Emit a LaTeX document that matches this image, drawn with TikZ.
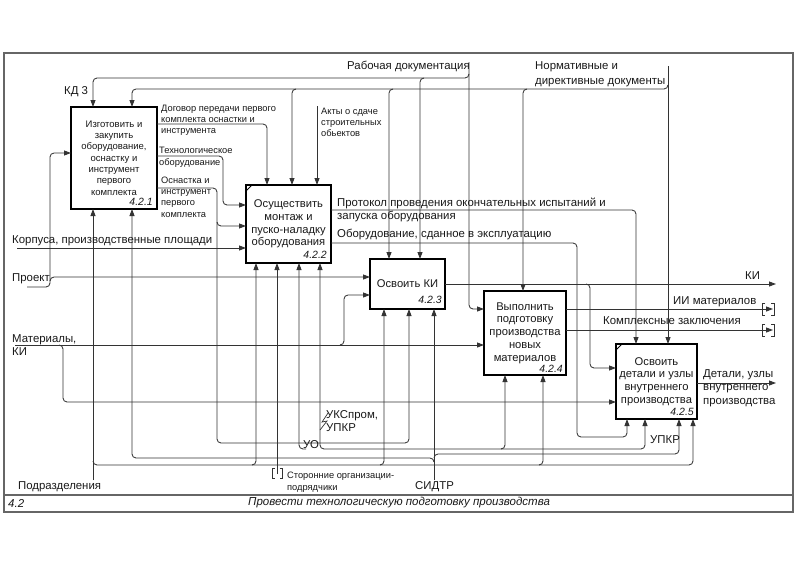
\documentclass[tikz,border=0pt]{standalone}
\usepackage{fontspec}
\setmainfont{Liberation Sans}
\usetikzlibrary{arrows.meta}
\begin{document}
\begin{tikzpicture}[x=1pt,y=-1pt,
  box/.style={draw=black, line width=1.7pt, inner sep=0pt, outer sep=0pt, align=center, text=black!90, font=\fontsize{11.2}{12.8}\selectfont},
  conn/.style={draw=black!80, line width=0.85pt, rounded corners=4pt},
  arr/.style={-{Triangle[length=7pt,width=5pt]}},
  lab/.style={inner sep=0pt, anchor=west, align=left, text=black!90, font=\fontsize{11.4}{13}\selectfont},
  slab/.style={inner sep=0pt, anchor=west, align=left, text=black!90, font=\fontsize{9.3}{11}\selectfont},
  num/.style={inner sep=0pt, anchor=south east, text=black!90, font=\fontsize{10.5}{12}\selectfont\itshape},
  tun/.style={draw=black!80, line width=0.8pt},
]
\fill[white] (0,0) rectangle (800,565);
\useasboundingbox (0,0) rectangle (800,565);
% frame
\draw[black!60, line width=1.2pt] (4,53) rectangle (793,512);
\draw[black!60, line width=1.2pt] (4,495) -- (793,495);
\node[lab, font=\fontsize{11.5}{13}\selectfont\itshape] (tnum) at (8,503) {4.2};
\node[lab, font=\fontsize{11.5}{13}\selectfont\itshape] (ttl) at (248,503) {Провести технологическую подготовку производства};

% boxes
\node[box, minimum width=86pt, minimum height=102pt, font=\fontsize{9.5}{11.3}\selectfont] (b1) at (114,158) {Изготовить и\\закупить\\оборудование,\\оснастку и\\инструмент\\первого\\комплекта};
\node[num] (n1) at ([xshift=-4pt,yshift=3pt]b1.south east) {4.2.1};
\node[box, minimum width=85pt, minimum height=78pt] (b2) at (288.5,224) {Осуществить\\монтаж и\\пуско-наладку\\оборудования};
\node[num] (n2) at ([xshift=-4pt,yshift=4pt]b2.south east) {4.2.2};
\node[box, minimum width=75pt, minimum height=50pt] (b3) at (407.5,284) {Освоить КИ};
\node[num] (n3) at ([xshift=-3pt,yshift=5pt]b3.south east) {4.2.3};
\node[box, minimum width=82pt, minimum height=84pt] (b4) at (525,333) {Выполнить\\подготовку\\производства\\новых\\материалов};
\node[num] (n4) at ([xshift=-3pt,yshift=2pt]b4.south east) {4.2.4};
\node[box, minimum width=81pt, minimum height=75pt] (b5) at (656.5,381.5) {Освоить\\детали и узлы\\внутреннего\\производства};
\node[num] (n5) at ([xshift=-3pt,yshift=3pt]b5.south east) {4.2.5};
\draw[line width=1pt] ([yshift=-6pt]b2.north west) -- ([xshift=6pt]b2.north west);
\draw[line width=1pt] ([yshift=-6pt]b5.north west) -- ([xshift=6pt]b5.north west);

% Рабочая документация
\draw[conn,arr] (469,62) -- (469,309) -- (b4.west |- 0,309);
\draw[conn,arr] (469,74) -- (469,78) -- (93,78) -- (93,0 |- b1.north);
\draw[conn,arr] (424,78) -- (420,78) -- (420,0 |- b3.north);
% Нормативные
\draw[conn,arr] (668,66) -- (668,0 |- b5.north);
\draw[conn,arr] (668,85) -- (668,89) -- (132,89) -- (132,0 |- b1.north);
\draw[conn,arr] (296,89) -- (292,89) -- (292,0 |- b2.north);
\draw[conn,arr] (393,89) -- (389,89) -- (389,0 |- b3.north);
\draw[conn,arr] (527,89) -- (523,89) -- (523,0 |- b4.north);
% Акты
\draw[conn,arr] (317,106) -- (317,0 |- b2.north);
% Договор
\draw[conn,arr] (b1.east |- 0,124) -- (267,124) -- (267,0 |- b2.north);
% Технологическое
\draw[conn,arr] (b1.east |- 0,156) -- (223,156) -- (223,205) -- (b2.west |- 0,205);
% Оснастка
\draw[conn,arr] (b1.east |- 0,188) -- (217,188) -- (217,443) -- (409,443) -- (409,0 |- b3.south);
\draw[conn,arr] (217,222) -- (217,226) -- (b2.west |- 0,226);
% Корпуса
\draw[conn,arr] (17,248) -- (b2.west |- 0,248);
% Проект
\draw[conn,arr] (27,287) -- (50,287) -- (50,153) -- (b1.west |- 0,153);
\draw[conn,arr] (50,281) -- (50,277) -- (b3.west |- 0,277);
% Материалы
\draw[conn,arr] (15,345) -- (b4.west |- 0,345);
\draw[conn,arr] (340,345) -- (344,345) -- (344,295) -- (b3.west |- 0,295);
\draw[conn,arr] (59,345) -- (63,345) -- (63,402) -- (b5.west |- 0,402);
% КИ
\draw[conn,arr] (b3.east |- 0,284) -- (776,284);
\draw[conn,arr] (586,284) -- (590,284) -- (590,368) -- (b5.west |- 0,368);
% Протокол
\draw[conn,arr] (b2.east |- 0,210) -- (636,210) -- (636,0 |- b5.north);
% Оборудование
\draw[conn,arr] (b2.east |- 0,243) -- (577,243) -- (577,437) -- (627,437) -- (627,0 |- b5.south);
% ИИ, Комплексные
\draw[conn,arr] (b4.east |- 0,309) -- (773,309);
\draw[conn,arr] (b4.east |- 0,330) -- (773,330);
% Детали
\draw[conn,arr] (b5.east |- 0,383) -- (776,383);
% Подразделения
\draw[conn,arr] (93,480) -- (93,0 |- b1.south);
\draw[conn,arr] (93,461) -- (93,465) -- (693,465) -- (693,0 |- b5.south);
\draw[conn,arr] (252,465) -- (256,465) -- (256,0 |- b2.south);
\draw[conn,arr] (380,465) -- (384,465) -- (384,0 |- b3.south);
\draw[conn,arr] (539,465) -- (543,465) -- (543,0 |- b4.south);
% СИДТР
\draw[conn,arr] (434,480) -- (434,0 |- b3.south);
\draw[conn,arr] (434,462) -- (434,458) -- (132,458) -- (132,0 |- b1.south);
\draw[conn,arr] (434,458) -- (434,454) -- (679,454) -- (679,0 |- b5.south);
% Сторонние
\draw[conn,arr] (277,474) -- (277,0 |- b2.south);
% УО / УКСпром
\draw[conn,arr] (306,449) -- (299,449) -- (299,0 |- b2.south);
\draw[conn,arr] (324,449) -- (320,449) -- (320,0 |- b2.south);
\draw[conn,arr] (324,449) -- (645,449) -- (645,0 |- b5.south);
\draw[conn,arr] (501,449) -- (505,449) -- (505,0 |- b4.south);

% tunnels
\draw[tun] (765,303) -- (762,303) -- (762,315) -- (765,315) (771,303) -- (774,303) -- (774,315) -- (771,315);
\draw[tun] (765,324) -- (762,324) -- (762,336) -- (765,336) (771,324) -- (774,324) -- (774,336) -- (771,336);
\draw[tun] (274.5,468) -- (272,468) -- (272,478) -- (274.5,478) (279.5,468) -- (282,468) -- (282,478) -- (279.5,478);
% squiggle
\draw[black!80, line width=0.7pt] (320,430) -- (327,421) -- (322,422) -- (328,413);

% labels
\node[lab] (lrab) at (347,67) {Рабочая документация};
\node[lab, font=\fontsize{11.4}{14.5}\selectfont] (lnorm) at (535,74.5) {Нормативные и\\директивные документы};
\node[lab] (lkd) at (64,92) {КД 3};
\node[slab] (ldog) at (161,120) {Договор передачи первого\\комплекта оснастки и\\инструмента};
\node[slab, font=\fontsize{9.3}{11.6}\selectfont] (ltech) at (159,157) {Технологическое\\оборудование};
\node[slab, font=\fontsize{9.3}{11.3}\selectfont] (losn) at (161,197) {Оснастка и\\инструмент\\первого\\комплекта};
\node[slab] (lakt) at (321,122) {Акты о сдаче\\строительных\\обьектов};
\node[lab] (lkorp) at (12,241) {Корпуса, производственные площади};
\node[lab] (lproj) at (12,279) {Проект};
\node[lab, font=\fontsize{11.4}{13.5}\selectfont] (lmat) at (12,345) {Материалы,\\КИ};
\node[lab] (lprot) at (337,209.5) {Протокол проведения окончательных испытаний и\\запуска оборудования};
\node[lab] (lobor) at (337,234) {Оборудование, сданное в эксплуатацию};
\node[lab] (lki) at (745,276) {КИ};
\node[lab] (lii) at (673,302) {ИИ материалов};
\node[lab] (lkomp) at (603,321) {Комплексные заключения};
\node[lab, font=\fontsize{11.4}{13.3}\selectfont] (ldet) at (703,388) {Детали, узлы\\внутреннего\\производства};
\node[lab] (luks) at (326,421.5) {УКСпром,\\УПКР};
\node[lab] (luo) at (303,445) {УО};
\node[lab] (lupkr) at (650,440) {УПКР};
\node[lab] (lpodr) at (18,487) {Подразделения};
\node[lab] (lsidtr) at (415,487) {СИДТР};
\node[slab, font=\fontsize{9.3}{12}\selectfont] (lstor) at (287,482) {Сторонние организации-\\подрядчики};
\end{tikzpicture}
\end{document}
